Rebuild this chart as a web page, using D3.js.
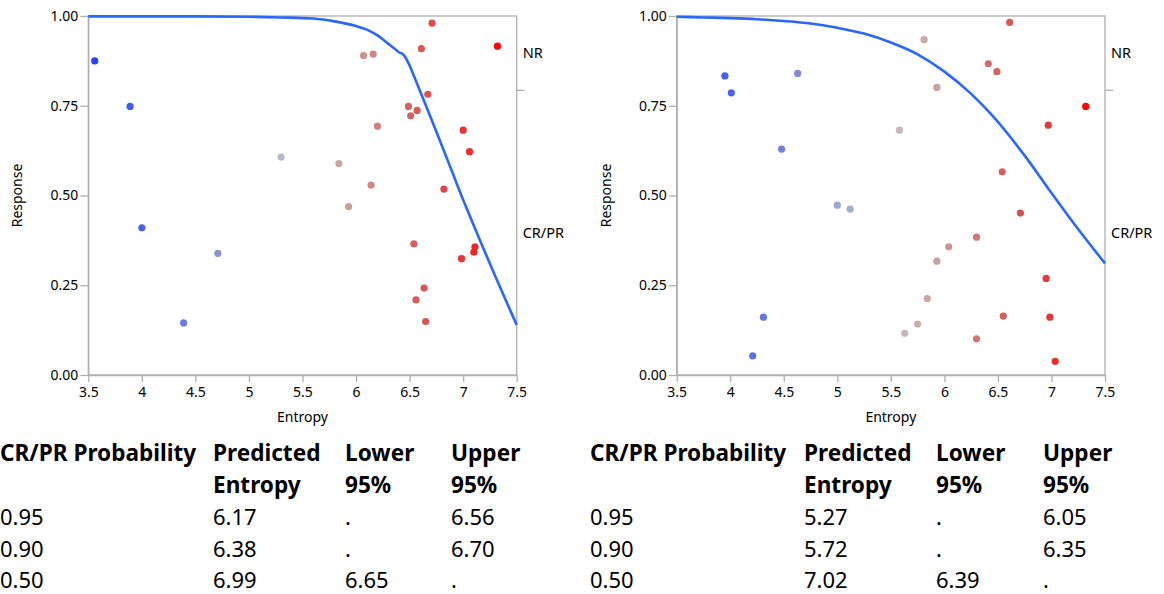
<!DOCTYPE html>
<html>
<head>
<meta charset="utf-8">
<script src="https://cdn.jsdelivr.net/npm/d3@7"></script>
<style>
  html, body { margin: 0; padding: 0; background: #fff; }
  svg { display: block; }
  text { font-family: "Noto Sans", "Open Sans", sans-serif; fill: #000; }
</style>
</head>
<body>
<svg id="chart" width="1164" height="594"></svg>
<script>
// ---------- data ----------
const xTicks = [3.5, 4, 4.5, 5, 5.5, 6, 6.5, 7, 7.5];
const yTicks = [0, 0.25, 0.5, 0.75, 1];
const categories = ["NR", "CR/PR"];
const crprShare = 0.793;   // boundary between CR/PR and NR on the right axis

const leftEntropy  = [3.56, 3.89, 4.00, 4.39, 4.71, 5.30, 6.07, 6.16, 6.71, 6.61, 7.32, 6.67, 6.49, 6.57, 6.51, 6.20, 7.00, 7.06, 5.84, 6.14, 6.82, 5.93, 6.54, 7.11, 7.10, 6.985, 6.635, 6.56, 6.65];
const leftResponse = [0.875, 0.748, 0.410, 0.145, 0.339, 0.607, 0.890, 0.894, 0.980, 0.909, 0.916, 0.782, 0.748, 0.737, 0.722, 0.693, 0.682, 0.622, 0.589, 0.529, 0.518, 0.469, 0.365, 0.357, 0.342, 0.324, 0.242, 0.209, 0.149];

const rightEntropy  = [3.95, 4.01, 4.63, 4.48, 5.00, 5.12, 4.31, 4.21, 6.61, 5.81, 6.41, 6.49, 5.93, 7.32, 6.97, 5.58, 6.54, 6.71, 6.30, 6.04, 5.93, 6.95, 5.84, 6.55, 6.985, 5.75, 5.63, 6.30, 7.035];
const rightResponse = [0.833, 0.786, 0.840, 0.629, 0.473, 0.462, 0.161, 0.053, 0.982, 0.934, 0.867, 0.845, 0.801, 0.748, 0.696, 0.682, 0.566, 0.451, 0.384, 0.357, 0.317, 0.269, 0.213, 0.164, 0.161, 0.142, 0.116, 0.101, 0.038];

const leftCurveX = [3.5, 4.0, 4.5, 5.0, 5.3, 5.6, 5.8, 6.0, 6.1, 6.2, 6.3, 6.38, 6.40, 6.435, 6.46, 6.5, 6.55, 6.6, 6.7, 6.8, 6.9, 7.0, 7.1, 7.2, 7.3, 7.4, 7.5];
const leftCurveY = [0.999, 0.999, 0.999, 0.998, 0.996, 0.993, 0.985, 0.972, 0.962, 0.946, 0.923, 0.904, 0.899, 0.894, 0.885, 0.862, 0.826, 0.789, 0.715, 0.640, 0.564, 0.488, 0.416, 0.345, 0.275, 0.207, 0.139];

const rightCurveX = [3.5, 3.75, 4.0, 4.25, 4.5, 4.75, 5.0, 5.25, 5.5, 5.75, 6.0, 6.25, 6.44, 6.75, 7.0, 7.25, 7.5];
const rightCurveY = [0.998, 0.996, 0.994, 0.991, 0.986, 0.979, 0.967, 0.951, 0.926, 0.893, 0.845, 0.783, 0.725, 0.611, 0.507, 0.406, 0.311];

const tableHeaders = [["CR/PR Probability"], ["Predicted", "Entropy"], ["Lower", "95%"], ["Upper", "95%"]];
const probLevels = ["0.95", "0.90", "0.50"];
const leftPred  = ["6.17", "6.38", "6.99"];
const leftLower = [".", ".", "6.65"];
const leftUpper = ["6.56", "6.70", "."];
const rightPred  = ["5.27", "5.72", "7.02"];
const rightLower = [".", ".", "6.39"];
const rightUpper = ["6.05", "6.35", "."];

// ---------- drawing ----------
const svg = d3.select("#chart");
const color = d3.scaleLinear()
  .domain([3.5, 4.7, 5.45, 5.9, 6.5, 7.0, 7.35])
  .range(["#2040ff", "#8890d2", "#c4c2ca", "#c9a2a2", "#d46262", "#e83434", "#ff0000"])
  .clamp(true);

function drawPanel(x0, x1, entropy, response, cx, cy) {
  const top = 16, bottom = 375;
  const x = d3.scaleLinear().domain([3.5, 7.5]).range([x0, x1]);
  const y = d3.scaleLinear().domain([0, 1]).range([bottom, top]);
  const g = svg.append("g");

  // frame
  g.append("rect").attr("x", x0).attr("y", top).attr("width", x1 - x0).attr("height", bottom - top)
    .attr("fill", "none").attr("stroke", "#b0b0b0").attr("stroke-width", 1.3);

  // axes
  const ax = g.append("g").attr("transform", `translate(0,${bottom})`)
    .call(d3.axisBottom(x).tickValues(xTicks).tickFormat(d3.format("")).tickSize(7).tickSizeOuter(0));
  const ay = g.append("g").attr("transform", `translate(${x0},0)`)
    .call(d3.axisLeft(y).tickValues(yTicks).tickFormat(d3.format(".2f")).tickSize(8).tickSizeOuter(0));
  [ax, ay].forEach(a => {
    a.select(".domain").attr("stroke", "#b0b0b0").attr("stroke-width", 1.3);
    a.selectAll(".tick line").attr("stroke", "#b0b0b0").attr("stroke-width", 1.3);
    a.selectAll(".tick text").attr("font-family", '"Noto Sans", sans-serif').attr("font-size", 14).attr("fill", "#111");
  });
  ax.selectAll(".tick text").attr("y", 12);
  ay.selectAll(".tick text").attr("x", -10);

  // right category axis
  const yb = y(crprShare);
  g.append("line").attr("x1", x1).attr("x2", x1 + 8).attr("y1", yb).attr("y2", yb)
    .attr("stroke", "#b0b0b0").attr("stroke-width", 1.3);
  g.append("text").attr("x", x1 + 6).attr("y", (y(1) + yb) / 2).attr("dy", "0.35em")
    .attr("font-size", 14.5).text(categories[0]);
  g.append("text").attr("x", x1 + 6).attr("y", (y(0) + yb) / 2).attr("dy", "0.35em")
    .attr("font-size", 14.5).text(categories[1]);

  // axis titles
  g.append("text").attr("x", (x0 + x1) / 2).attr("y", 422).attr("text-anchor", "middle")
    .attr("font-size", 14).text("Entropy");
  g.append("text").attr("transform", `translate(${x0 - 66},${(top + bottom) / 2}) rotate(-90)`)
    .attr("text-anchor", "middle").attr("font-size", 14).text("Response");

  // points
  const pts = entropy.map((e, i) => ({ e, r: response[i] }));
  g.append("g").selectAll("circle").data(pts).join("circle")
    .attr("cx", d => x(d.e)).attr("cy", d => y(d.r)).attr("r", 3.6)
    .attr("fill", d => color(d.e));

  // fitted curve
  const line = d3.line().x(d => x(d[0])).y(d => y(d[1])).curve(d3.curveMonotoneX);
  g.append("path").datum(cx.map((v, i) => [v, cy[i]]))
    .attr("d", line).attr("fill", "none").attr("stroke", "#2b66ff").attr("stroke-width", 2.6)
    .attr("stroke-linejoin", "round");
}

drawPanel(88.3, 516.7, leftEntropy, leftResponse, leftCurveX, leftCurveY);
drawPanel(676.7, 1105, rightEntropy, rightResponse, rightCurveX, rightCurveY);

function drawTable(colX, pred, lower, upper) {
  const g = svg.append("g");
  tableHeaders.forEach((h, c) => {
    h.forEach((t, k) => {
      g.append("text").attr("x", colX[c]).attr("y", 461 + k * 31.5)
        .attr("font-size", 22.6).attr("font-weight", "bold").text(t);
    });
  });
  const cols = [probLevels, pred, lower, upper];
  cols.forEach((col, c) => {
    col.forEach((t, r) => {
      g.append("text").attr("x", colX[c]).attr("y", 525 + r * 31.5)
        .attr("font-size", 22).text(t);
    });
  });
}
drawTable([0, 213, 345, 451], leftPred, leftLower, leftUpper);
drawTable([590, 804, 936, 1043], rightPred, rightLower, rightUpper);
</script>
</body>
</html>
